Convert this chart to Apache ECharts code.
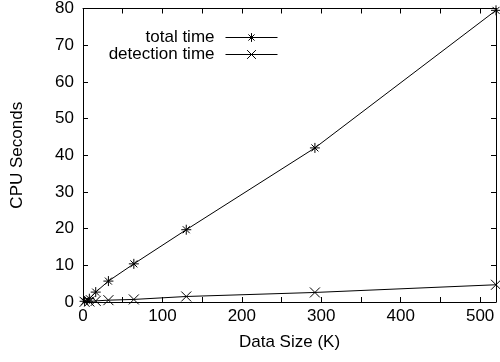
<!DOCTYPE html>
<html>
<head>
<meta charset="utf-8">
<script src="https://cdn.jsdelivr.net/npm/echarts@6/dist/echarts.min.js"></script>
<style>
  html, body { margin: 0; padding: 0; background: #fff; }
  #chart { width: 500px; height: 362px; }
</style>
</head>
<body>
<div id="chart"></div>
<script>
// data
const dataSizes = [2, 8, 16, 32, 64, 130, 292, 520];
const totalTime = [0.2, 0.9, 2.7, 5.7, 10.4, 19.7, 42.0, 79.5];
const detectionTime = [0.05, 0.15, 0.3, 0.5, 0.7, 1.5, 2.6, 4.7];
const seriesNames = ["total time", "detection time"];

const FONT = "'Liberation Sans', Arial, Helvetica, sans-serif";
const FONT_SIZE = 17;
const ASTERISK = "path://M0,5L10,5M5,0L5,10M1.5,1.5L8.5,8.5M8.5,1.5L1.5,8.5";
const CROSS = "path://M0,0L10,10M10,0L0,10";

function pairs(xs, ys) {
  return xs.map((x, i) => [x, ys[i]]);
}

function lineSeries(name, values, symbol) {
  return {
    name: name,
    type: "line",
    data: pairs(dataSizes, values),
    symbol: symbol,
    symbolSize: 10,
    showAllSymbol: true,
    lineStyle: { color: "#000", width: 1 },
    itemStyle: { color: "none", borderColor: "#000", borderWidth: 1 },
    animation: false
  };
}

// one legend per row so the icons line up on the right
function legendRow(name, top) {
  return {
    data: [name],
    right: 222,
    top: top,
    padding: 0,
    align: "right",
    itemWidth: 52,
    itemHeight: 11,
    itemStyle: { color: "none", borderColor: "#000", borderWidth: 1 },
    lineStyle: { color: "#000", width: 1 },
    textStyle: { fontSize: FONT_SIZE, color: "#000", fontFamily: FONT, padding: [0, 6, 0, 0] }
  };
}

const axisBase = {
  axisLine: { show: true, onZero: false, lineStyle: { color: "#000", width: 1 } },
  axisTick: { show: true, inside: true, length: 5, lineStyle: { color: "#000" } },
  splitLine: { show: false }
};

const chart = echarts.init(document.getElementById("chart"));
chart.setOption({
  backgroundColor: "#fff",
  animation: false,
  textStyle: { fontFamily: FONT },
  grid: { left: 83, right: 4, top: 6, bottom: 60 },
  legend: [legendRow(seriesNames[0], 29), legendRow(seriesNames[1], 46)],
  xAxis: [
    Object.assign({}, axisBase, {
      type: "value",
      min: 0,
      max: 520,
      interval: 50,
      name: "Data Size (K)",
      nameLocation: "middle",
      nameGap: 32,
      nameTextStyle: { fontSize: FONT_SIZE, color: "#000", fontFamily: FONT },
      axisLabel: {
        fontSize: FONT_SIZE,
        color: "#000",
        margin: 6,
        formatter: v => (v % 100 === 0 ? String(v) : "")
      }
    }),
    Object.assign({}, axisBase, {
      type: "value",
      position: "top",
      min: 0,
      max: 520,
      interval: 50,
      axisLabel: { show: false }
    })
  ],
  yAxis: [
    Object.assign({}, axisBase, {
      type: "value",
      min: 0,
      max: 80,
      interval: 10,
      name: "CPU Seconds",
      nameLocation: "middle",
      nameRotate: 90,
      nameGap: 57,
      nameTextStyle: { fontSize: FONT_SIZE, color: "#000", fontFamily: FONT },
      axisLabel: { fontSize: FONT_SIZE, color: "#000", margin: 9 }
    }),
    Object.assign({}, axisBase, {
      type: "value",
      position: "right",
      min: 0,
      max: 80,
      interval: 10,
      axisLabel: { show: false }
    })
  ],
  series: [
    lineSeries(seriesNames[0], totalTime, ASTERISK),
    lineSeries(seriesNames[1], detectionTime, CROSS)
  ]
});
</script>
</body>
</html>
